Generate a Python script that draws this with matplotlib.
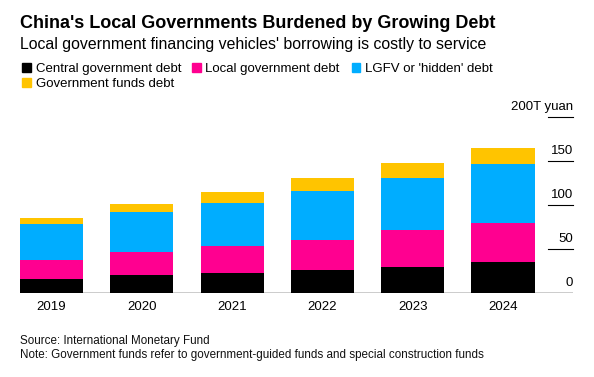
import matplotlib.pyplot as plt
import numpy as np

plt.rcParams["font.family"] = ["Liberation Sans", "DejaVu Sans"]

# Data (trillion yuan)
years = ["2019", "2020", "2021", "2022", "2023", "2024"]
central_debt = [16.2, 20.8, 22.7, 25.7, 29.8, 34.8]
local_debt = [21.6, 26.0, 30.2, 34.8, 41.3, 45.3]
lgfv_debt = [40.1, 45.4, 49.9, 55.5, 59.7, 66.2]
funds_debt = [7.1, 9.1, 12.1, 14.4, 16.6, 18.1]

series_names = ["Central government debt", "Local government debt",
                "LGFV or 'hidden' debt", "Government funds debt"]
colors = ["#000000", "#FF0090", "#00ADFF", "#FFC400"]
y_ticks = [0, 50, 100, 150, 200]
y_tick_labels = ["0", "50", "100", "150", "200T yuan"]

fig = plt.figure(figsize=(5.94, 3.77), dpi=100)
ax = fig.add_axes([20 / 594, 84 / 377, 553 / 594, 176 / 377])

x = np.arange(len(years))
bottom = np.zeros(len(years))
for vals, color in zip([central_debt, local_debt, lgfv_debt, funds_debt], colors):
    ax.bar(x, vals, width=0.7, bottom=bottom, color=color, edgecolor="none")
    bottom += np.array(vals)

ax.set_xlim(-0.35, 5.775)
ax.set_ylim(0, 200)
for s in ax.spines.values():
    s.set_visible(False)
ax.set_yticks([])
ax.set_xticks(x)
ax.set_xticklabels(years, fontsize=9.5)
ax.tick_params(axis="x", length=0, pad=6)

# baseline and short gridline stubs on the right
ax.axhline(0, color="#000000", lw=1.0, zorder=3)
trans = ax.get_yaxis_transform()
for t, lab in zip(y_ticks, y_tick_labels):
    if t > 0:
        ax.plot([1 - 25 / 553, 1.0], [t, t], color="#000000", lw=0.8,
                transform=trans, clip_on=False)
    ax.text(1.0, t + 5, lab, transform=trans, ha="right", va="bottom",
            fontsize=9.5, clip_on=False)


def fy(py):
    return 1 - py / 377


# title, subtitle
fig.text(19.5 / 594, fy(28), "China's Local Governments Burdened by Growing Debt",
         fontsize=12.95, fontweight="bold", va="baseline", ha="left")
fig.text(20 / 594, fy(48.5), "Local government financing vehicles' borrowing is costly to service",
         fontsize=11.4, va="baseline", ha="left")

# legend
legend_pos = [(22.3, 72.3), (192, 72.3), (351.7, 72.3), (22.3, 87.3)]
for (lx, ly), name, color in zip(legend_pos, series_names, colors):
    fig.patches.append(plt.Rectangle((lx / 594, fy(ly - 0.8)), 8.7 / 594, 8.5 / 377,
                                     transform=fig.transFigure, color=color))
    fig.text((lx + 13.4) / 594, fy(ly), name, fontsize=9.5, va="baseline", ha="left")

# footer
fig.text(20.5 / 594, fy(344.3), "Source: International Monetary Fund",
         fontsize=8.4, va="baseline", ha="left", color="#111111")
fig.text(20.5 / 594, fy(357.7),
         "Note: Government funds refer to government-guided funds and special construction funds",
         fontsize=8.4, va="baseline", ha="left", color="#111111")

fig.savefig("out.png", dpi=100)
